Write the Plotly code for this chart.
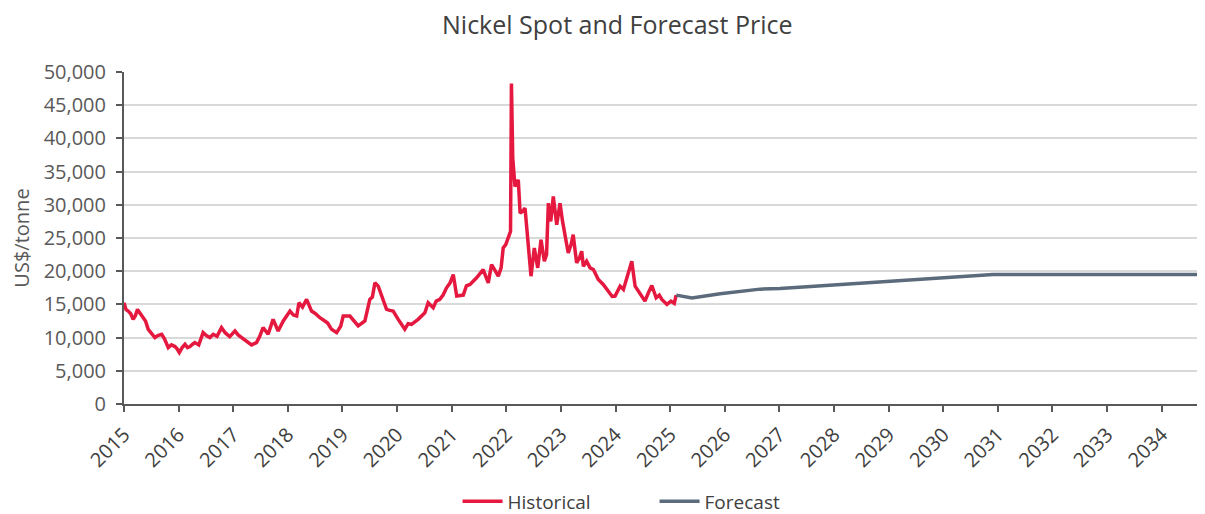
import plotly.graph_objects as go

# Historical spot price (US$/tonne)
hist_dates = [
    "2015-02-01", "2015-02-15", "2015-03-01", "2015-03-18", "2015-04-03", "2015-04-18",
    "2015-05-02", "2015-05-20", "2015-06-08", "2015-06-25", "2015-07-13", "2015-08-01",
    "2015-08-27", "2015-09-15", "2015-10-11", "2015-10-28", "2015-11-24", "2015-12-15",
    "2016-01-08", "2016-01-22", "2016-02-06", "2016-02-25", "2016-03-15", "2016-04-01",
    "2016-04-17", "2016-05-05", "2016-05-20", "2016-06-15", "2016-07-14", "2016-08-05",
    "2016-08-28", "2016-09-20", "2016-10-15", "2016-11-14", "2016-12-10", "2017-01-08",
    "2017-02-12", "2017-03-05", "2017-03-28", "2017-04-25", "2017-06-03", "2017-07-06",
    "2017-07-28", "2017-08-19", "2017-09-22", "2017-10-25", "2017-11-28", "2018-01-01",
    "2018-01-20", "2018-02-15", "2018-03-10", "2018-04-01", "2018-04-16", "2018-05-10",
    "2018-06-06", "2018-07-09", "2018-08-05", "2018-09-03", "2018-10-06", "2018-10-25",
    "2018-11-20", "2018-12-24", "2019-01-20", "2019-02-06", "2019-03-23", "2019-04-20",
    "2019-05-17", "2019-07-01", "2019-07-20", "2019-08-03", "2019-08-20", "2019-09-06",
    "2019-09-28", "2019-10-21", "2019-11-23", "2019-12-15", "2020-01-06", "2020-02-09",
    "2020-03-24", "2020-04-15", "2020-05-08", "2020-06-21", "2020-08-05", "2020-08-27",
    "2020-09-30", "2020-10-20", "2020-11-13", "2020-12-05", "2020-12-28", "2021-01-20",
    "2021-02-11", "2021-03-06", "2021-04-19", "2021-05-10", "2021-06-03", "2021-07-17",
    "2021-08-30", "2021-10-03", "2021-10-25", "2021-11-20", "2021-12-09", "2021-12-28",
    "2022-01-11", "2022-01-28", "2022-02-14", "2022-03-01", "2022-03-07", "2022-03-16",
    "2022-03-31", "2022-04-22", "2022-05-04", "2022-05-20", "2022-06-06", "2022-06-28",
    "2022-07-16", "2022-08-07", "2022-08-30", "2022-09-21", "2022-10-13", "2022-10-28",
    "2022-11-09", "2022-11-25", "2022-12-12", "2023-01-04", "2023-01-26", "2023-02-12",
    "2023-02-28", "2023-03-22", "2023-04-10", "2023-04-24", "2023-05-17", "2023-06-05",
    "2023-06-20", "2023-07-01", "2023-07-23", "2023-08-15", "2023-09-06", "2023-09-22",
    "2023-10-09", "2023-11-11", "2023-12-14", "2024-01-10", "2024-01-29", "2024-03-03",
    "2024-03-25", "2024-04-21", "2024-05-20", "2024-06-11", "2024-07-14", "2024-08-16",
    "2024-09-08", "2024-10-01", "2024-10-30", "2024-11-20", "2024-12-07", "2025-01-10",
    "2025-02-06", "2025-02-28", "2025-03-13",
]
hist_values = [
    15250, 14200, 14000, 13600, 12750, 13300,
    14250, 13600, 13000, 12500, 11250, 10800,
    10000, 10300, 10500, 9900, 8500, 8900,
    8650, 8300, 7750, 8500, 9000, 8500,
    8650, 9000, 9250, 8900, 10750, 10300,
    10000, 10500, 10200, 11500, 10700, 10150,
    11000, 10400, 10000, 9500, 8900, 9250,
    10200, 11500, 10500, 12750, 11000, 12500,
    13200, 14000, 13400, 13250, 15250, 14600,
    15750, 14000, 13600, 13000, 12500, 12200,
    11250, 10750, 11700, 13250, 13250, 12400,
    11750, 12500, 14300, 15750, 16100, 18250,
    17750, 16250, 14250, 14100, 14000, 12750,
    11250, 12100, 12000, 12750, 13750, 15250,
    14500, 15500, 15750, 16400, 17500, 18200,
    19500, 16250, 16400, 17800, 18000, 19000,
    20250, 18250, 21000, 20000, 19250, 20500,
    23500, 24000, 25250, 26000, 48250, 37000,
    32750, 33750, 28750, 29000, 29500, 23750,
    19250, 23500, 20500, 24750, 21500, 22500,
    30250, 27500, 31250, 27000, 30250, 27500,
    25250, 22750, 24000, 25500, 21250, 22000,
    23000, 20750, 21500, 20500, 20250, 19500,
    18750, 18000, 17000, 16200, 16250, 17750,
    17250, 19250, 21500, 17750, 16500, 15500,
    16750, 17850, 16000, 16400, 15750, 15000,
    15500, 15150, 16400,
]

# Forecast price (US$/tonne)
fc_dates = [
    "2025-03-13", "2025-06-26", "2026-01-01", "2026-04-22", "2026-09-25", "2027-02-06",
    "2027-08-25", "2028-07-01", "2029-07-01", "2030-07-01", "2031-01-01", "2032-01-01",
    "2033-01-01", "2034-01-01", "2034-10-15",
]
fc_values = [
    16400, 15950, 16600, 16900, 17300, 17400,
    17700, 18100, 18600, 19150, 19500, 19500,
    19500, 19500, 19500,
]

years = list(range(2015, 2035))
tick_dates = [f"{y}-02-01" for y in years]
tick_text = [str(y) for y in years]

RED = "#E5193F"
SLATE = "#5B6B7C"
FONT = "Open Sans"

fig = go.Figure()
fig.add_trace(go.Scatter(x=hist_dates, y=hist_values, mode="lines", name="Historical",
                         line=dict(color=RED, width=3.5)))
fig.add_trace(go.Scatter(x=fc_dates, y=fc_values, mode="lines", name="Forecast",
                         line=dict(color=SLATE, width=3.5)))

# the page body adds an 8px offset, so the figure is sized to fill the rest of the window
fig.update_layout(
    width=1197, height=506,
    margin=dict(l=116, r=5, t=64, b=110, autoexpand=False),
    paper_bgcolor="white", plot_bgcolor="white",
    font=dict(family=FONT, color="#595959", size=19),
    title=dict(text="Nickel Spot and Forecast Price", x=0.509, xanchor="center",
               xref="container",
               y=0.966, yref="container", yanchor="middle",
               font=dict(family=FONT, size=25, color="#404040")),
    showlegend=True,
    legend=dict(orientation="h", x=0.31, xanchor="left", y=-0.293, yanchor="middle",
                font=dict(size=19, color="#404040"), itemwidth=40,
                entrywidth=142, entrywidthmode="pixels", borderwidth=0),
    xaxis=dict(type="date", range=["2015-02-01", "2034-10-15"], automargin=False,
               tickmode="array", tickvals=tick_dates, ticktext=tick_text,
               tickangle=-45, ticks="outside", ticklen=6, tickwidth=2, tickcolor="#595959",
               showline=True, linecolor="#595959", linewidth=2, showgrid=False,
               ticklabelstandoff=3,
               tickfont=dict(size=20, color="#404040")),
    yaxis=dict(range=[0, 50000], dtick=5000, tickformat=",", automargin=False,
               ticks="outside", ticklen=6, tickwidth=2, tickcolor="#595959",
               showline=True, linecolor="#595959", linewidth=2,
               showgrid=True, gridcolor="#d9d9d9", gridwidth=2, zeroline=False,
               ticklabelstandoff=6,
               tickfont=dict(size=20, color="#595959"),
               title=dict(text="US$/tonne", standoff=12, font=dict(size=20, color="#595959"))),
)

fig.write_html("out.html")
